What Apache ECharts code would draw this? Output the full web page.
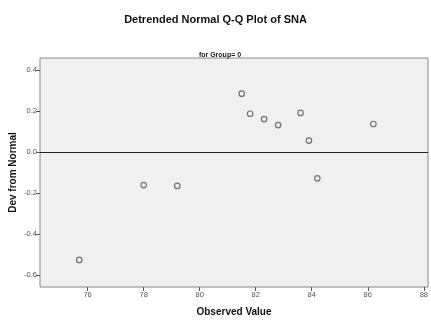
<!DOCTYPE html>
<html>
<head>
<meta charset="utf-8">
<script src="https://cdn.jsdelivr.net/npm/echarts@6/dist/echarts.min.js"></script>
<style>html,body{margin:0;padding:0;background:#fff}#c{width:431px;height:322px}</style>
</head>
<body>
<div id="c"></div>
<script>
const observed = [75.7, 78.0, 79.2, 81.5, 81.8, 82.3, 82.8, 83.6, 83.9, 84.2, 86.2];
const devFromNormal = [-0.525, -0.16, -0.164, 0.286, 0.188, 0.162, 0.133, 0.192, 0.057, -0.127, 0.138];
const xTicks = [76, 78, 80, 82, 84, 86, 88];
const yTicks = [-0.6, -0.4, -0.2, 0.0, 0.2, 0.4];

const chart = echarts.init(document.getElementById('c'), null, {renderer: 'canvas'});
const font = '"Liberation Sans", Arial, sans-serif';
chart.setOption({
  animation: false,
  backgroundColor: '#ffffff',
  title: [
    {text: 'Detrended Normal Q-Q Plot of SNA', left: 'center', top: 9,
     textStyle: {fontFamily: font, fontSize: 11, fontWeight: 'bold', color: '#111'}},
    {text: 'for Group= 0', left: 215, textAlign: 'center', top: 47,
     textStyle: {fontFamily: font, fontSize: 7, fontWeight: 'bold', color: '#222'}}
  ],
  grid: {left: 40, top: 58, right: 3, bottom: 35, show: true, backgroundColor: '#f0f0f0',
         borderColor: '#8a8a8a', borderWidth: 1, containLabel: false, outerBoundsMode: 'none'},
  xAxis: {
    type: 'value', min: 74.3, max: 88.15,
    name: 'Observed Value', nameLocation: 'middle', nameGap: 20, nameMoveOverlap: false,
    nameTextStyle: {fontFamily: font, fontSize: 10, fontWeight: 'bold', color: '#111'},
    axisLine: {show: false, onZero: false},
    splitLine: {show: false},
    axisTick: {show: true, customValues: xTicks, length: 4, lineStyle: {color: '#555'}},
    axisLabel: {customValues: xTicks, fontFamily: font, fontSize: 7.5, color: '#555', margin: 4,
                formatter: v => String(v)}
  },
  yAxis: {
    type: 'value', min: -0.657, max: 0.46,
    name: 'Dev from Normal', nameLocation: 'middle', nameGap: 22, nameRotate: 90, nameMoveOverlap: false,
    nameTextStyle: {fontFamily: font, fontSize: 10, fontWeight: 'bold', color: '#111'},
    axisLine: {show: false, onZero: false},
    splitLine: {show: false},
    axisTick: {show: true, customValues: yTicks, length: 4, lineStyle: {color: '#555'}},
    axisLabel: {customValues: yTicks, fontFamily: font, fontSize: 7.5, color: '#555', margin: 3,
                formatter: v => v.toFixed(1)}
  },
  series: [{
    type: 'scatter',
    data: observed.map((x, i) => [x, devFromNormal[i]]),
    symbol: 'circle', symbolSize: 5.5,
    itemStyle: {color: 'rgba(0,0,0,0)', borderColor: '#555', borderWidth: 1.2},
    markLine: {
      silent: true, symbol: 'none', label: {show: false},
      lineStyle: {color: '#222', width: 1, type: 'solid'},
      data: [{yAxis: 0}]
    }
  }]
});
</script>
</body>
</html>
